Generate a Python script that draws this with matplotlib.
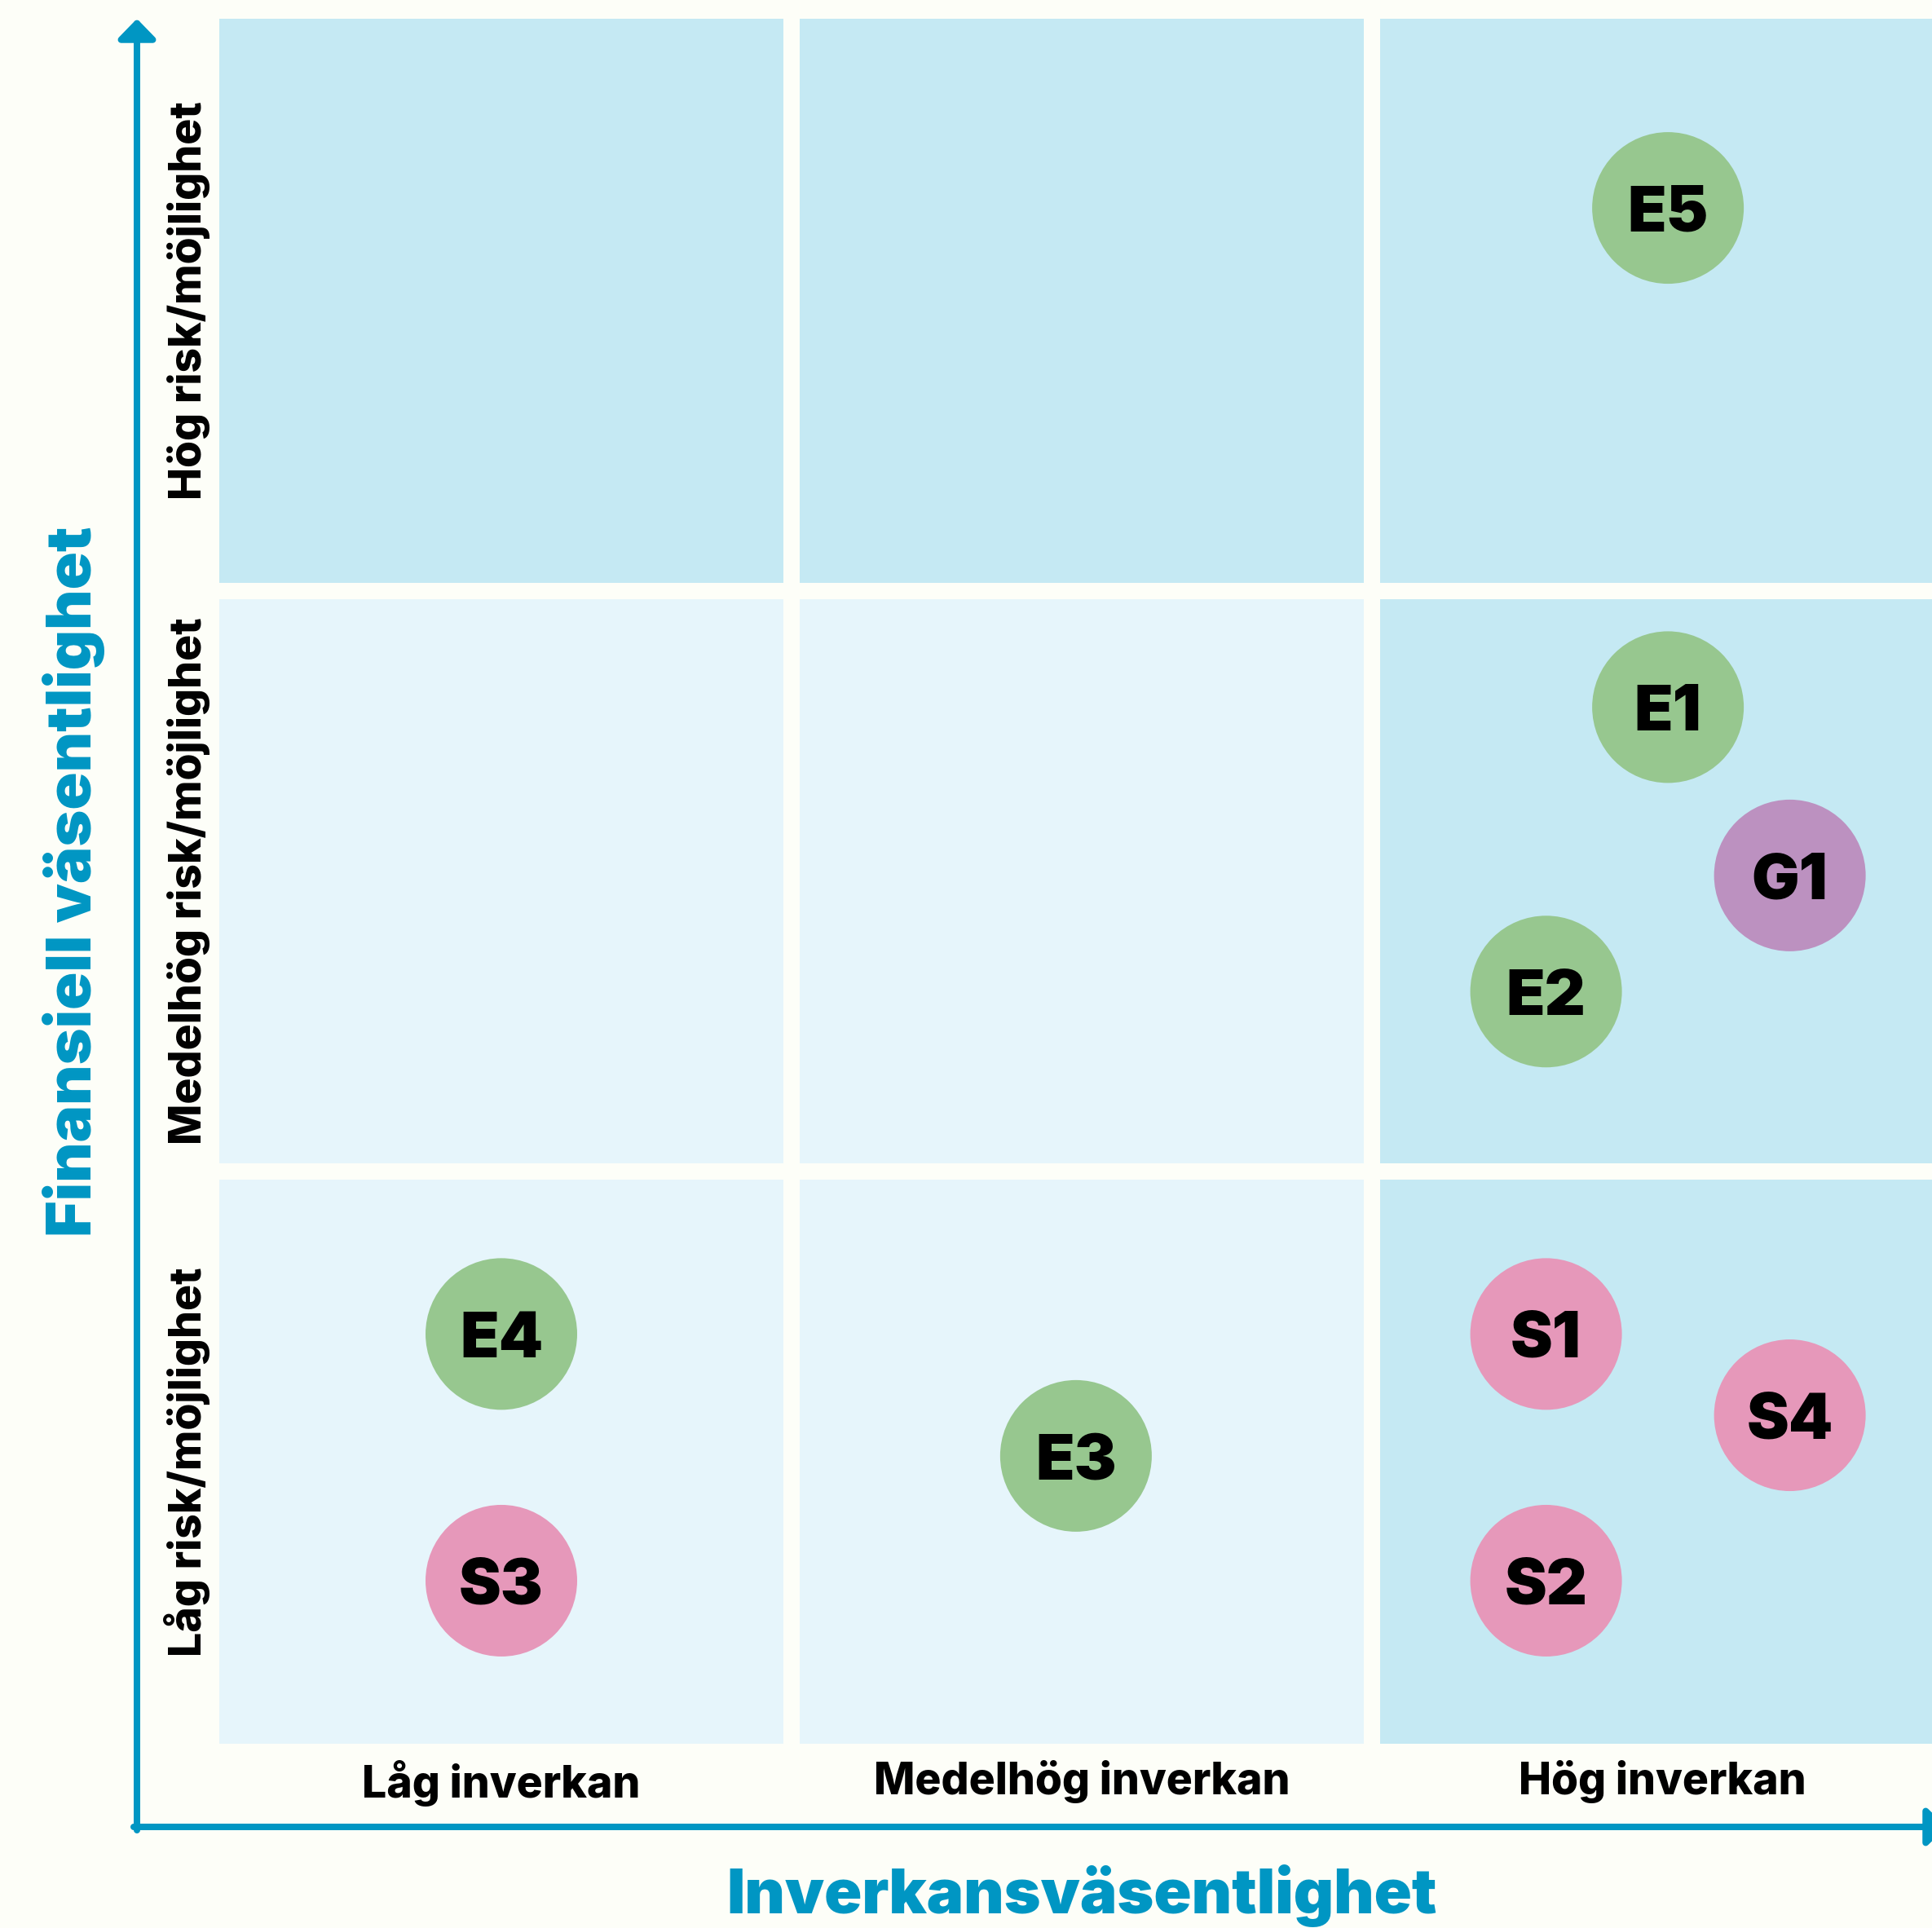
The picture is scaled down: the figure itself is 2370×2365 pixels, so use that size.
import matplotlib
matplotlib.use("Agg")
import matplotlib.pyplot as plt
from matplotlib.patches import Rectangle, Circle

# ---------------- data ----------------
impact_levels = ["Låg inverkan", "Medelhög inverkan", "Hög inverkan"]
financial_levels = ["Låg risk/möjlighet", "Medelhög risk/möjlighet", "Hög risk/möjlighet"]

topic_ids = ["E1", "E2", "E3", "E4", "E5", "S1", "S2", "S3", "S4", "G1"]
topic_group = ["E", "E", "E", "E", "E", "S", "S", "S", "S", "G"]
impact_score = [2.51, 2.30, 1.49, 0.50, 2.51, 2.30, 2.30, 0.50, 2.72, 2.72]
financial_score = [1.80, 1.31, 0.51, 0.72, 2.66, 0.72, 0.295, 0.295, 0.58, 1.51]

# material (highlighted) cells: rows = financial level (low->high), cols = impact level
material_cells = [[0, 0, 1],
                  [0, 0, 1],
                  [1, 1, 1]]

# ---------------- style ----------------
BG = "#FDFEF8"
DARK_CELL = "#C5E9F3"
LIGHT_CELL = "#E6F5FB"
BLUE = "#0096C3"
GROUP_COLORS = {"E": "#97C78F", "S": "#E698BA", "G": "#BC91C0"}
FONT = ["Inter", "DejaVu Sans"]

W, H = 2370, 2365
fig = plt.figure(figsize=(W / 100, H / 100), dpi=100, facecolor=BG)

# axes placement in pixels: data x 0..3 -> px 259..2395, data y 0..3 -> px 2149..13
left_px, right_px, bottom_px, top_px = 259, 2395, 2149, 13
ax = fig.add_axes([left_px / W, (H - bottom_px) / H,
                   (right_px - left_px) / W, (bottom_px - top_px) / H])
ax.set_facecolor("none")
ax.set_xlim(0, 3)
ax.set_ylim(0, 3)
for s in ax.spines.values():
    s.set_visible(False)

gap = 10 / 712
for r in range(3):
    for c in range(3):
        col = DARK_CELL if material_cells[r][c] else LIGHT_CELL
        ax.add_patch(Rectangle((c + gap, r + gap), 1 - 2 * gap, 1 - 2 * gap,
                               facecolor=col, edgecolor="none", zorder=1))

radius = 93 / 712
for tid, g, x, y in zip(topic_ids, topic_group, impact_score, financial_score):
    ax.add_patch(Circle((x, y), radius, facecolor=GROUP_COLORS[g],
                        edgecolor="none", zorder=3))
    ax.text(x, y, tid, ha="center", va="center_baseline", fontsize=56,
            fontweight=900, family=FONT, color="black", zorder=4)

ax.set_xticks([0.5, 1.5, 2.5])
ax.set_xticklabels(impact_levels, fontsize=38.5, fontweight=800, family=FONT)
ax.set_yticks([0.5, 1.5, 2.5])
ax.set_yticklabels(financial_levels, fontsize=38.5, fontweight=800, family=FONT,
                   rotation=90, va="center")
ax.tick_params(axis="x", length=0, pad=7)
ax.tick_params(axis="y", length=0, pad=1)

ax.set_xlabel("Inverkansväsentlighet", fontsize=55, fontweight=900,
              family=FONT, color=BLUE, va="baseline")
ax.xaxis.set_label_coords(0.5, (bottom_px - 2347) / (bottom_px - top_px))
ax.set_ylabel("Finansiell väsentlighet", fontsize=55, fontweight=900,
              family=FONT, color=BLUE, va="baseline")
ax.yaxis.set_label_coords((112 - left_px) / (right_px - left_px), 0.5)

# axis arrows (figure pixel overlay)
ov = fig.add_axes([0, 0, 1, 1])
ov.set_xlim(0, W)
ov.set_ylim(H, 0)
ov.axis("off")
ov.patch.set_alpha(0)
lw = 8 * 72 / 100
style = "-|>,head_length=0.72,head_width=0.7"
ov.annotate("", xy=(168, 23), xytext=(168, 2245), annotation_clip=False,
            arrowprops=dict(arrowstyle=style, color=BLUE, lw=lw,
                            mutation_scale=20, shrinkA=0, shrinkB=0))
ov.annotate("", xy=(2388, 2241), xytext=(164, 2241), annotation_clip=False,
            arrowprops=dict(arrowstyle=style, color=BLUE, lw=lw,
                            mutation_scale=20, shrinkA=0, shrinkB=0))

fig.savefig("out.png", dpi=100, facecolor=BG)
